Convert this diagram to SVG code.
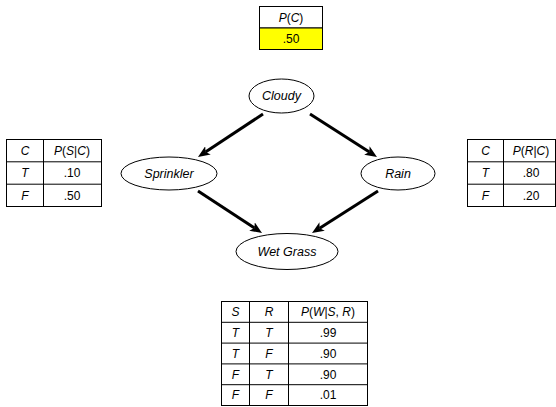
<svg xmlns="http://www.w3.org/2000/svg" width="556" height="407" viewBox="0 0 556 407">
  <style>
    .cell { fill: #ffffff; stroke: #000000; stroke-width: 1; }
    .hl { fill: #ffff00; stroke: #000000; stroke-width: 1; }
    .rule { stroke: #000000; stroke-width: 1; fill: none; }
    .node { fill: #ffffff; stroke: #000000; stroke-width: 1; }
    .lbl { font-family: "Liberation Sans", Arial, sans-serif; font-size: 12.5px; font-style: italic; text-anchor: middle; dominant-baseline: central; fill: #000; }
    .t { font-family: "Liberation Sans", Arial, sans-serif; font-size: 12px; text-anchor: middle; dominant-baseline: central; fill: #000; }
    .i { font-style: italic; }
    .edge { stroke: #000000; stroke-width: 3; fill: none; marker-end: url(#head); }
  </style>
  <defs>
    <marker id="head" viewBox="0 0 12 10" refX="3" refY="5" markerWidth="12" markerHeight="10" markerUnits="userSpaceOnUse" orient="auto">
      <path d="M0,0 L12,5 L0,10 L3,5 z" fill="#000"/>
    </marker>
  </defs>

  <!-- prior table for Cloudy -->
  <g id="table-c">
    <rect class="cell" x="259.5" y="6.5" width="63" height="21.5"/>
    <rect class="hl" x="259.5" y="28" width="63" height="21.5"/>
    <text class="t" x="291" y="17.5"><tspan class="i">P</tspan>(<tspan class="i">C</tspan>)</text>
    <text class="t" x="291" y="39">.50</text>
  </g>

  <!-- conditional table for Sprinkler -->
  <g id="table-s">
    <rect class="cell" x="6.5" y="139.5" width="95" height="67"/>
    <path class="rule" d="M6.5,161.8H101.5M6.5,184.2H101.5M43.5,139.5V206.5"/>
    <text class="t i" x="25" y="150.5">C</text>
    <text class="t" x="72" y="150.5"><tspan class="i">P</tspan>(<tspan class="i">S</tspan>|<tspan class="i">C</tspan>)</text>
    <text class="t i" x="25" y="173">T</text>
    <text class="t" x="72" y="173">.10</text>
    <text class="t i" x="25" y="195.5">F</text>
    <text class="t" x="72" y="195.5">.50</text>
  </g>

  <!-- conditional table for Rain -->
  <g id="table-r">
    <rect class="cell" x="467.5" y="139.5" width="88" height="67"/>
    <path class="rule" d="M467.5,161.8H555.5M467.5,184.2H555.5M503.5,139.5V206.5"/>
    <text class="t i" x="485.5" y="150.5">C</text>
    <text class="t" x="531" y="150.5"><tspan class="i">P</tspan>(<tspan class="i">R</tspan>|<tspan class="i">C</tspan>)</text>
    <text class="t i" x="485.5" y="173">T</text>
    <text class="t" x="531" y="173">.80</text>
    <text class="t i" x="485.5" y="195.5">F</text>
    <text class="t" x="531" y="195.5">.20</text>
  </g>

  <!-- conditional table for Wet Grass -->
  <g id="table-w">
    <rect class="cell" x="221.5" y="301.5" width="146" height="104"/>
    <path class="rule" d="M221.5,322.3H367.5M221.5,343.1H367.5M221.5,363.9H367.5M221.5,384.7H367.5M249.5,301.5V405.5M288.5,301.5V405.5"/>
    <text class="t i" x="235.5" y="312">S</text>
    <text class="t i" x="269" y="312">R</text>
    <text class="t" x="328" y="312"><tspan class="i">P</tspan>(<tspan class="i">W</tspan>|<tspan class="i">S</tspan>, <tspan class="i">R</tspan>)</text>
    <text class="t i" x="235.5" y="333">T</text>
    <text class="t i" x="269" y="333">T</text>
    <text class="t" x="328" y="333">.99</text>
    <text class="t i" x="235.5" y="353.8">T</text>
    <text class="t i" x="269" y="353.8">F</text>
    <text class="t" x="328" y="353.8">.90</text>
    <text class="t i" x="235.5" y="374.6">F</text>
    <text class="t i" x="269" y="374.6">T</text>
    <text class="t" x="328" y="374.6">.90</text>
    <text class="t i" x="235.5" y="395.3">F</text>
    <text class="t i" x="269" y="395.3">F</text>
    <text class="t" x="328" y="395.3">.01</text>
  </g>

  <!-- directed edges -->
  <g id="edges">
    <line class="edge" x1="263" y1="114" x2="205.5" y2="152"/>
    <line class="edge" x1="310" y1="114" x2="369.4" y2="152.1"/>
    <line class="edge" x1="198" y1="191" x2="254.5" y2="228.1"/>
    <line class="edge" x1="378" y1="191" x2="319.6" y2="228.2"/>
  </g>

  <!-- variable nodes -->
  <g id="cloudy">
    <ellipse class="node" cx="281.5" cy="96" rx="32.5" ry="17"/>
    <text class="lbl" x="281.5" y="96">Cloudy</text>
  </g>
  <g id="sprinkler">
    <ellipse class="node" cx="169" cy="173.5" rx="48" ry="16.5"/>
    <text class="lbl" x="169" y="173.5">Sprinkler</text>
  </g>
  <g id="rain">
    <ellipse class="node" cx="398" cy="173.5" rx="37" ry="16.5"/>
    <text class="lbl" x="398" y="173.5">Rain</text>
  </g>
  <g id="wet-grass">
    <ellipse class="node" cx="287" cy="251.5" rx="51" ry="18"/>
    <text class="lbl" x="287" y="251.5">Wet Grass</text>
  </g>
</svg>
